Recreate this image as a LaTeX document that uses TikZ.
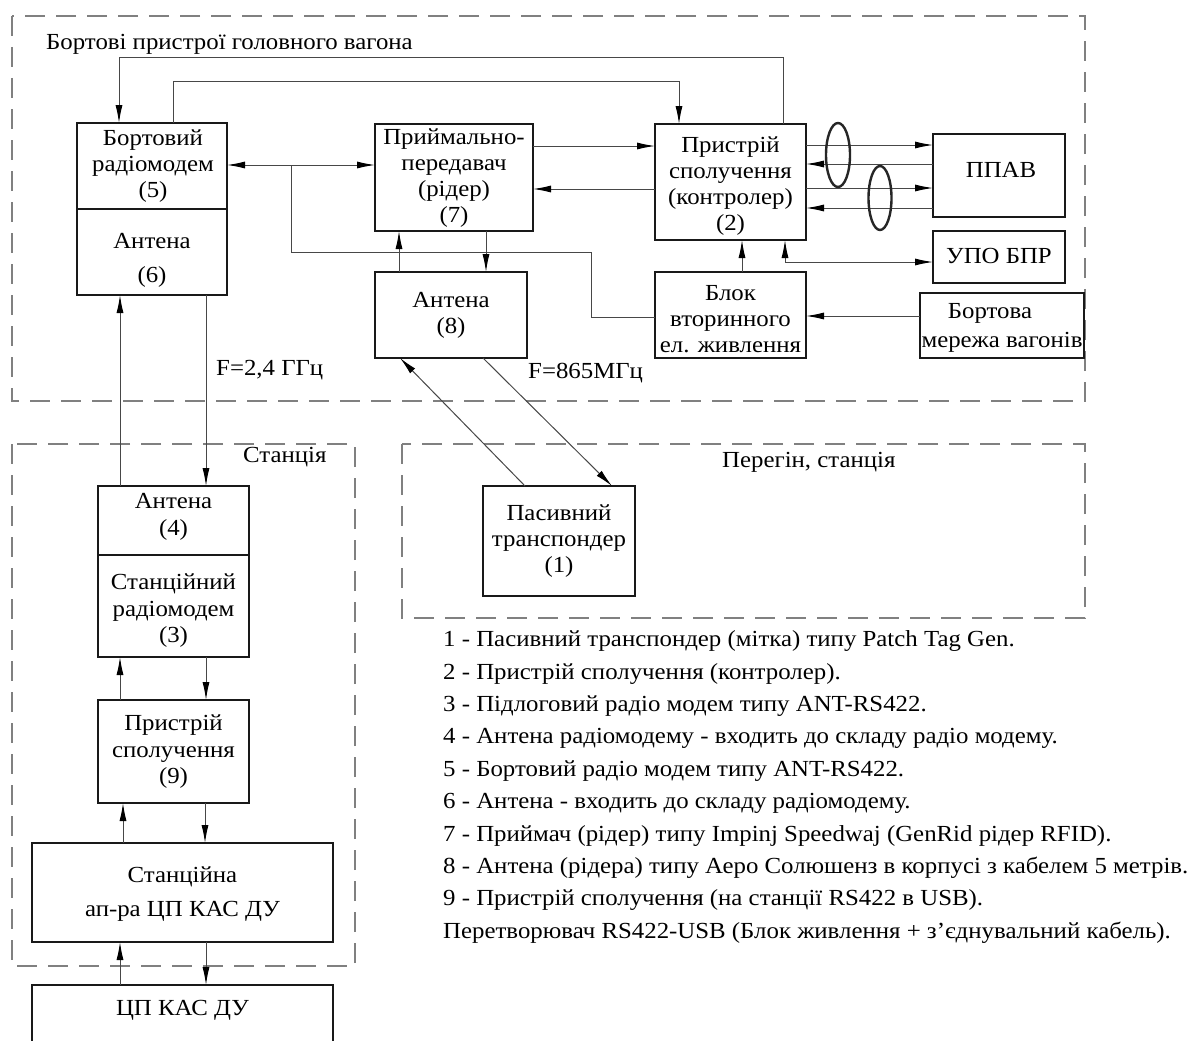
\documentclass[tikz,border=0pt]{standalone}
\usepackage{fontspec}
\setmainfont{Liberation Serif}[FakeStretch=1.08]
\usetikzlibrary{arrows.meta}
\begin{document}
\begin{tikzpicture}[x=1pt,y=-1pt,
  box/.style={draw=black!90, line width=2.7pt, inner sep=0pt, outer sep=0pt},
  txt/.style={align=center, inner sep=0pt, text=black, font=\fontsize{23}{26}\selectfont},
  conn/.style={draw=black!72, line width=1pt, arrows={-{Latex[length=18pt,width=7pt,color=black]}}},
  plain/.style={draw=black!72, line width=1pt},
  both/.style={draw=black!72, line width=1pt, arrows={{Latex[length=18pt,width=7pt,color=black]}-{Latex[length=18pt,width=7pt,color=black]}}},
  region/.style={draw=black!50, line width=1.2pt, dash pattern=on 20pt off 11pt},
  ring/.style={draw=black!85, line width=2.4pt}
]
\useasboundingbox (0,0) rectangle (1189,1041);
\clip (0,0) rectangle (1189,1041);
\fill[white] (0,0) rectangle (1189,1041);

% regions
\draw[region] (12,16) rectangle (1085,401);
\draw[region] (12,444) rectangle (355,966);
\draw[region] (402,444) rectangle (1085,618);

\node[txt, anchor=west] (title) at (46,44) {Бортові пристрої головного вагона};
\node[txt, anchor=west] (stlabel) at (243,457) {Станція};
\node[txt, anchor=west] (perlabel) at (722,462) {Перегін, станція};

% boxes
\node[box, minimum width=150pt, minimum height=86pt] (b5) at (152,166) {};
\node[box, minimum width=150pt, minimum height=86pt] (b6) at (152,252) {};
\node[box, minimum width=158pt, minimum height=107pt] (b7) at (454,177.5) {};
\node[box, minimum width=151pt, minimum height=116pt] (b2) at (730.5,182) {};
\node[box, minimum width=132pt, minimum height=83pt] (bP) at (999,175.5) {};
\node[box, minimum width=132pt, minimum height=52pt] (bU) at (999,257) {};
\node[box, minimum width=164pt, minimum height=65pt] (bM) at (1002,325.5) {};
\node[box, minimum width=151pt, minimum height=86pt] (bB) at (730.5,315) {};
\node[box, minimum width=152pt, minimum height=86pt] (b8) at (451,315) {};
\node[box, minimum width=152pt, minimum height=110pt] (b1) at (559,541) {};
\node[box, minimum width=151pt, minimum height=69pt] (b4) at (173.5,520.5) {};
\node[box, minimum width=151pt, minimum height=102pt] (b3) at (173.5,606) {};
\node[box, minimum width=151pt, minimum height=103pt] (b9) at (173.5,751.5) {};
\node[box, minimum width=301pt, minimum height=99pt] (bS) at (182.5,892.5) {};
\node[box, minimum width=301pt, minimum height=75pt] (bC) at (182.5,1022.5) {};

% texts in boxes
\node[txt] (t5) at (153,166) {Бортовий\\радіомодем\\(5)};
\node[txt, font=\fontsize{23}{34}\selectfont] (t6) at (152,260) {Антена\\(6)};
\node[txt] (t7) at (454,178) {Приймально-\\передавач\\(рідер)\\(7)};
\node[txt] (t2) at (730.5,186.5) {Пристрій\\сполучення\\(контролер)\\(2)};
\node[txt] (tP) at (1001,170) {ППАВ};
\node[txt] (tU) at (999,256) {УПО БПР};
\node[txt, font=\fontsize{23}{29}\selectfont] (tM) at (1002,327.5) {Бортова\hspace*{24pt}\\мережа вагонів};
\node[txt] (tB) at (730.5,318.7) {Блок\\вторинного\\ел. живлення};
\node[txt] (t8) at (451,315) {Антена\\(8)};
\node[txt] (t1) at (559,540.7) {Пасивний\\транспондер\\(1)};
\node[txt, font=\fontsize{23}{27}\selectfont] (t4) at (173.5,516.5) {Антена\\(4)};
\node[txt, font=\fontsize{23}{26.5}\selectfont] (t3) at (173.5,611) {Станційний\\радіомодем\\(3)};
\node[txt, font=\fontsize{23}{26.5}\selectfont] (t9) at (173.5,752) {Пристрій\\сполучення\\(9)};
\node[txt, font=\fontsize{23}{34}\selectfont] (tS) at (182.5,894) {Станційна\\ап-ра ЦП КАС ДУ};
\node[txt] (tC) at (182.5,1010) {ЦП КАС ДУ};

% frequency labels
\node[txt, anchor=west] (f1) at (216,370) {F=2,4 ГГц};
\node[txt, anchor=west] (f2) at (528,373) {F=865МГц};

% legend
\node[txt, align=left, anchor=west, font=\fontsize{23}{32.4}\selectfont] (legend) at (443,787) {1 - Пасивний транспондер (мітка) типу Patch Tag Gen.\\
2 - Пристрій сполучення (контролер).\\
3 - Підлоговий радіо модем типу ANT-RS422.\\
4 - Антена радіомодему - входить до складу радіо модему.\\
5 - Бортовий радіо модем типу ANT-RS422.\\
6 - Антена - входить до складу радіомодему.\\
7 - Приймач (рідер) типу Impinj Speedwaj (GenRid рідер RFID).\\
8 - Антена (рідера) типу Аеро Солюшенз в корпусі з кабелем 5 метрів.\\
9 - Пристрій сполучення (на станції RS422 в USB).\\
Перетворювач RS422-USB (Блок живлення + з'єднувальний кабель).};

% connectors, top
\draw[conn] (783,0 |- b2.north) |- (119,58) -- (119,0 |- b5.north);
\draw[conn] (173,0 |- b5.north) |- (679,82) -- (679,0 |- b2.north);
\draw[both] (b5.east |- 0,165) -- (b7.west |- 0,165);
\coordinate (j1) at (291,165);
\draw[plain] (j1) |- (591,252) |- (bB.west |- 0,317);
\draw[conn] (b7.east |- 0,146) -- (b2.west |- 0,146);
\draw[conn] (b2.west |- 0,189) -- (b7.east |- 0,189);
\draw[conn] (399,0 |- b8.north) -- (399,0 |- b7.south);
\draw[conn] (486,0 |- b7.south) -- (486,0 |- b8.north);

% to PPAV
\draw[conn] (b2.east |- 0,145) -- (bP.west |- 0,145);
\draw[conn] (bP.west |- 0,164) -- (b2.east |- 0,164);
\draw[conn] (b2.east |- 0,188) -- (bP.west |- 0,188);
\draw[conn] (bP.west |- 0,208) -- (b2.east |- 0,208);
\draw[ring] (838,155) ellipse [x radius=12pt, y radius=32pt];
\draw[ring] (880,198) ellipse [x radius=11.5pt, y radius=32pt];

% power and UPO
\draw[conn] (742,0 |- bB.north) -- (742,0 |- b2.south);
\draw[both] (785,0 |- b2.south) |- (bU.west |- 0,262);
\draw[conn] (bM.west |- 0,316) -- (bB.east |- 0,316);

% radio links
\draw[conn] (120,0 |- b4.north) -- (120,0 |- b6.south);
\draw[conn] (206,0 |- b6.south) -- (206,0 |- b4.north);
\draw[conn] (525,0 |- b1.north) -- (400,0 |- b8.south);
\draw[conn] (483,0 |- b8.south) -- (612,0 |- b1.north);

% station stack
\draw[conn] (120,0 |- b9.north) -- (120,0 |- b3.south);
\draw[conn] (206,0 |- b3.south) -- (206,0 |- b9.north);
\draw[conn] (123,0 |- bS.north) -- (123,0 |- b9.south);
\draw[conn] (205,0 |- b9.south) -- (205,0 |- bS.north);
\draw[conn] (120,0 |- bC.north) -- (120,0 |- bS.south);
\draw[conn] (206,0 |- bS.south) -- (206,0 |- bC.north);
\end{tikzpicture}
\end{document}
